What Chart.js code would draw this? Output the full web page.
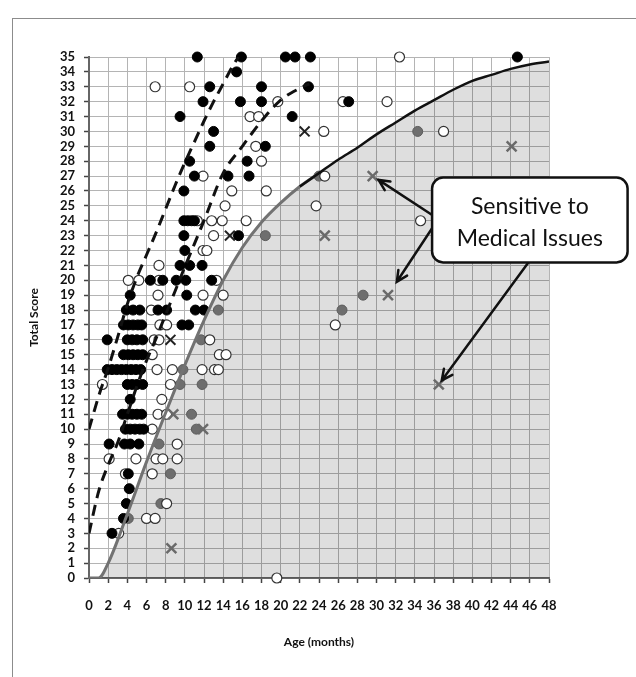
<!DOCTYPE html>
<html>
<head>
<meta charset="utf-8">
<script src="https://cdn.jsdelivr.net/npm/chart.js@4.4.1/dist/chart.umd.min.js"></script>
<style>
  html, body { margin: 0; padding: 0; background: #fff; }
  #wrap { position: relative; width: 636px; height: 677px; }
  #chart { display: block; }
  #frame { position: absolute; left: 12px; top: 18px; right: 0; bottom: 0;
           border-left: 1px solid #8c8c8c; border-top: 1px solid #8c8c8c; pointer-events: none; }
</style>
</head>
<body>
<div id="wrap">
  <canvas id="chart" width="636" height="677"></canvas>
  <div id="frame"></div>
</div>
<script>
// filled black circles (age in months, total score)
var blackAge = [
  11.3, 15.9, 20.5, 21.5, 23.1, 44.7,
  15.4,
  12.6, 18.0, 22.9,
  11.9, 15.8, 18.0, 27.1,
  9.5, 21.2,
  13.0,
  12.6, 18.4,
  10.5, 16.5,
  11.0, 14.5, 16.7,
  9.9,
  9.9, 10.3, 10.7, 11.0,
  9.9, 15.6,
  10.0,
  9.5, 10.5, 11.8,
  6.4, 7.7, 9.1, 10.1, 12.8,
  4.3, 10.2,
  3.9, 4.6, 5.3, 7.2, 8.1, 11.1, 12.0,
  3.6, 4.1, 4.6, 5.1, 5.5, 9.7, 10.4,
  1.9, 4.0, 4.5, 5.0, 5.6,
  3.6, 4.1, 4.6, 5.1, 5.6,
  1.9, 2.4, 2.9, 3.4, 3.9, 4.4, 4.9, 5.4,
  4.0, 4.5, 5.0, 5.6,
  4.3,
  3.5, 4.0, 4.5, 5.0, 5.5,
  3.8, 4.3, 4.8, 5.3, 5.7,
  2.1, 3.7, 4.3, 5.2,
  4.1, 4.2, 3.9, 3.6, 2.4
];
var blackScore = [
  35, 35, 35, 35, 35, 35,
  34,
  33, 33, 33,
  32, 32, 32, 32,
  31, 31,
  30,
  29, 29,
  28, 28,
  27, 27, 27,
  26,
  24, 24, 24, 24,
  23, 23,
  22,
  21, 21, 21,
  20, 20, 20, 20, 20,
  19, 19,
  18, 18, 18, 18, 18, 18, 18,
  17, 17, 17, 17, 17, 17, 17,
  16, 16, 16, 16, 16,
  15, 15, 15, 15, 15,
  14, 14, 14, 14, 14, 14, 14, 14,
  13, 13, 13, 13,
  12,
  11, 11, 11, 11, 11,
  10, 10, 10, 10, 10,
  9, 9, 9, 9,
  7, 6, 5, 4, 3
];

// open circles
var openAge = [
  32.4,
  6.9, 10.5,
  19.7, 26.5, 31.1,
  16.8, 17.7,
  24.5, 37.0,
  17.4,
  18.0,
  11.9, 24.6,
  14.9, 18.5,
  14.2, 23.7,
  11.3, 12.8, 13.9, 16.4, 34.6,
  13.0,
  11.9, 12.3,
  7.3,
  4.1, 5.2, 7.3, 13.3,
  7.2, 11.9, 14.0,
  6.5,
  7.4, 8.1, 25.7,
  6.8, 7.3, 12.6,
  6.6, 13.6, 14.3,
  7.1, 8.7, 11.8, 13.1, 13.5,
  1.4, 8.5,
  7.6,
  7.2, 8.1,
  6.6,
  9.2,
  2.1, 4.9, 7.0, 7.7, 9.2,
  3.8, 6.6,
  8.1,
  6.0, 6.9,
  3.1,
  19.6
];
var openScore = [
  35,
  33, 33,
  32, 32, 32,
  31, 31,
  30, 30,
  29,
  28,
  27, 27,
  26, 26,
  25, 25,
  24, 24, 24, 24, 24,
  23,
  22, 22,
  21,
  20, 20, 20, 20,
  19, 19, 19,
  18,
  17, 17, 17,
  16, 16, 16,
  15, 15, 15,
  14, 14, 14, 14, 14,
  13, 13,
  12,
  11, 11,
  10,
  9,
  8, 8, 8, 8, 8,
  7, 7,
  5,
  4, 4,
  3,
  0
];

// grey filled circles
var greyAge   = [34.3, 24.0, 18.4, 28.6, 13.5, 26.4, 11.7, 9.8, 9.5, 11.8, 10.7, 11.2, 7.3, 8.5, 7.5, 4.1];
var greyScore = [30, 27, 23, 19, 18, 18, 16, 14, 13, 13, 11, 10, 9, 7, 5, 4];

// grey crosses (last three are the ones in the callout)
var greyXAge   = [8.8, 11.9, 8.6, 24.6, 44.1, 29.6, 31.2, 36.5];
var greyXScore = [11, 10, 2, 23, 29, 27, 19, 13];
var calloutIdx = [5, 6, 7];

// black crosses
var blackXAge   = [22.5, 14.7, 8.5];
var blackXScore = [30, 23, 16];

// lower solid boundary (grey part up to 24 months, black part from 22 months)
var curveAge   = [0, 1, 2, 4, 6, 8, 10, 12, 14, 16, 18, 20, 22, 24, 26, 28, 30, 32, 34, 36, 38, 40, 42, 44, 46, 48];
var curveScore = [0, 0, 1, 4.3, 7.8, 11.1, 14.3, 17.3, 20.0, 22.2, 23.9, 25.2, 26.3, 27.2, 28.1, 28.9, 29.8, 30.6, 31.4, 32.1, 32.8, 33.4, 33.8, 34.2, 34.5, 34.7];

// dashed curves
var dashAAge   = [0, 1, 2, 3, 4, 5, 6, 7, 8, 9, 10, 11, 12, 13, 14, 15, 15.6];
var dashAScore = [10, 12.2, 14.1, 16.2, 18.4, 20.2, 21.7, 23.2, 24.8, 26.4, 27.9, 29.3, 30.7, 32.0, 33.2, 34.4, 35];
var dashBAge   = [0, 1, 2, 3, 4, 5, 6, 7, 8, 9, 10, 12, 14, 16, 18, 20, 22, 23];
var dashBScore = [3, 5.8, 7.6, 9.1, 11.0, 12.9, 14.6, 16.1, 17.7, 19.3, 20.9, 24.0, 27.2, 29.0, 30.7, 32.1, 32.9, 33.2];

var calloutLines = ['Sensitive to', 'Medical Issues'];

function pts(xs, ys) {
  var out = [];
  for (var i = 0; i < xs.length; i++) out.push({ x: xs[i], y: ys[i] });
  return out;
}

function part(from, to) {
  var out = [];
  for (var i = 0; i < curveAge.length; i++) {
    if (curveAge[i] >= from && curveAge[i] <= to) out.push({ x: curveAge[i], y: curveScore[i] });
  }
  return out;
}

// callout box with arrows pointing at the three crosses
var callout = {
  id: 'callout',
  afterDatasetsDraw: function(chart) {
    var ctx = chart.ctx, xs = chart.scales.x, ys = chart.scales.y;
    var left = xs.getPixelForValue(35.8), right = xs.getPixelForValue(56.2);
    var top = ys.getPixelForValue(26.9), bottom = ys.getPixelForValue(21.2);

    var starts = [
      [left + 2, ys.getPixelForValue(24.3)],
      [left + 2, ys.getPixelForValue(23.7)],
      [xs.getPixelForValue(46), bottom - 2]
    ];
    var gaps = [7, 16, 5];

    ctx.save();
    ctx.strokeStyle = '#111';
    ctx.lineWidth = 2.5;
    ctx.lineCap = 'round';
    calloutIdx.forEach(function(k, i) {
      var tx = xs.getPixelForValue(greyXAge[k]), ty = ys.getPixelForValue(greyXScore[k]);
      var sx = starts[i][0], sy = starts[i][1];
      var dx = tx - sx, dy = ty - sy, len = Math.sqrt(dx * dx + dy * dy);
      var ux = dx / len, uy = dy / len;
      var ex = tx - ux * gaps[i], ey = ty - uy * gaps[i];
      ctx.beginPath();
      ctx.moveTo(sx, sy);
      ctx.lineTo(ex, ey);
      var ang = Math.atan2(uy, ux), head = 12, spread = 0.45;
      ctx.moveTo(ex - head * Math.cos(ang - spread), ey - head * Math.sin(ang - spread));
      ctx.lineTo(ex, ey);
      ctx.lineTo(ex - head * Math.cos(ang + spread), ey - head * Math.sin(ang + spread));
      ctx.stroke();
    });

    // rounded box
    var r = 11;
    ctx.beginPath();
    ctx.moveTo(left + r, top);
    ctx.arcTo(right, top, right, bottom, r);
    ctx.arcTo(right, bottom, left, bottom, r);
    ctx.arcTo(left, bottom, left, top, r);
    ctx.arcTo(left, top, right, top, r);
    ctx.closePath();
    ctx.fillStyle = '#fff';
    ctx.fill();
    ctx.lineWidth = 2.5;
    ctx.stroke();

    ctx.fillStyle = '#111';
    ctx.font = '23px Lato';
    ctx.textAlign = 'center';
    ctx.textBaseline = 'middle';
    var cx = (left + right) / 2, cy = (top + bottom) / 2;
    ctx.fillText(calloutLines[0], cx, cy - 13);
    ctx.fillText(calloutLines[1], cx, cy + 19);
    ctx.restore();
  }
};

var tickFont = { family: 'Lato', size: 13, weight: 'bold' };
var titleFont = { family: 'Lato', size: 12, weight: 'bold' };

new Chart(document.getElementById('chart'), {
  type: 'scatter',
  data: {
    datasets: [
      {
        // shaded area under the solid boundary
        type: 'line',
        data: pts(curveAge, curveScore),
        borderWidth: 0,
        borderColor: 'rgba(0,0,0,0)',
        backgroundColor: 'rgba(0,0,0,0.13)',
        fill: 'origin',
        pointRadius: 0,
        cubicInterpolationMode: 'monotone',
        order: 10
      },
      {
        type: 'line',
        data: part(0, 24),
        borderColor: '#727272',
        borderWidth: 3,
        fill: false,
        pointRadius: 0,
        cubicInterpolationMode: 'monotone',
        order: 1
      },
      {
        type: 'line',
        data: part(22, 48),
        borderColor: '#111',
        borderWidth: 2.5,
        fill: false,
        pointRadius: 0,
        cubicInterpolationMode: 'monotone',
        order: 0
      },
      {
        type: 'line',
        data: pts(dashAAge, dashAScore),
        borderColor: '#111',
        borderWidth: 3,
        borderDash: [11, 7],
        fill: false,
        pointRadius: 0,
        cubicInterpolationMode: 'monotone',
        order: 2
      },
      {
        type: 'line',
        data: pts(dashBAge, dashBScore),
        borderColor: '#111',
        borderWidth: 3,
        borderDash: [11, 7],
        fill: false,
        pointRadius: 0,
        cubicInterpolationMode: 'monotone',
        order: 2
      },
      {
        data: pts(greyAge, greyScore),
        pointRadius: 5,
        backgroundColor: '#6e6e6e',
        borderColor: '#5c5c5c',
        borderWidth: 1,
        clip: false,
        order: 6
      },
      {
        data: pts(openAge, openScore),
        pointRadius: 5,
        backgroundColor: '#fff',
        borderColor: '#333',
        borderWidth: 1.2,
        clip: false,
        order: 5
      },
      {
        data: pts(blackAge, blackScore),
        pointRadius: 5,
        backgroundColor: '#000',
        borderColor: '#000',
        borderWidth: 1,
        clip: false,
        order: 4
      },
      {
        data: pts(greyXAge, greyXScore),
        pointStyle: 'crossRot',
        pointRadius: 7,
        borderColor: '#6a6a6a',
        borderWidth: 2.5,
        clip: false,
        order: 3
      },
      {
        data: pts(blackXAge, blackXScore),
        pointStyle: 'crossRot',
        pointRadius: 7,
        borderColor: '#222',
        borderWidth: 2,
        clip: false,
        order: 3
      }
    ]
  },
  options: {
    responsive: false,
    animation: false,
    events: [],
    layout: { padding: { left: 12, right: 87, top: 57, bottom: 0 } },
    plugins: { legend: { display: false }, tooltip: { enabled: false } },
    scales: {
      x: {
        type: 'linear',
        min: 0,
        max: 48,
        afterFit: function(s) { s.height = 99; },
        ticks: { stepSize: 2, autoSkip: false, maxRotation: 0, padding: 15, color: '#111', font: tickFont },
        grid: { color: '#b4b4b4', lineWidth: 1, tickLength: 5, tickColor: '#444', tickWidth: 1.5 },
        border: { color: '#666', width: 2 },
        title: { display: true, text: 'Age (months)', color: '#111', font: titleFont, padding: { top: 0, bottom: 28 } }
      },
      y: {
        min: 0,
        max: 35,
        afterFit: function(s) { s.width = 77; },
        ticks: { stepSize: 1, autoSkip: false, padding: 9, color: '#111', font: tickFont },
        grid: { color: '#b4b4b4', lineWidth: 1, tickLength: 5, tickColor: '#444', tickWidth: 1.5 },
        border: { color: '#666', width: 2 },
        title: { display: true, text: 'Total Score', color: '#111', font: titleFont, padding: { top: 15, bottom: 0 } }
      }
    }
  },
  plugins: [callout]
});
</script>
</body>
</html>
